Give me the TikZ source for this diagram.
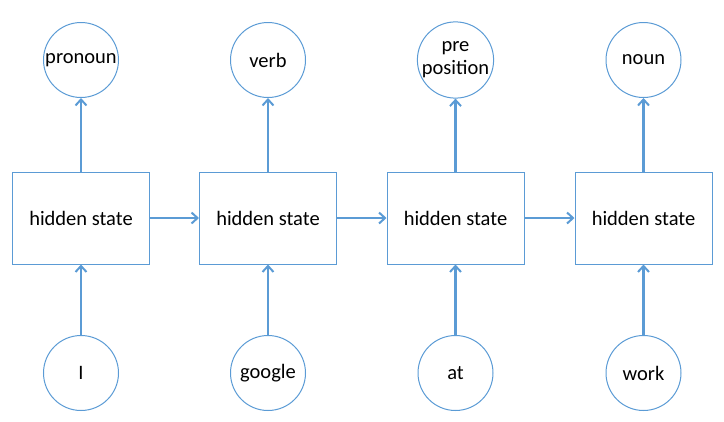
\documentclass[tikz,border=0pt]{standalone}
\usepackage{fontspec}
\setmainfont{Carlito}
\usetikzlibrary{arrows.meta}
\definecolor{ob}{HTML}{5B9BD5}
\begin{document}
\begin{tikzpicture}[x=1pt,y=-1pt,
  hbox/.style={draw=ob,line width=1pt,minimum width=137pt,minimum height=92pt,inner sep=0pt,font=\fontsize{20.5}{22}\selectfont},
  circ/.style={draw=ob,line width=1pt,circle,minimum size=75pt,inner sep=0pt,font=\fontsize{20.5}{23}\selectfont,align=center},
  conn/.style={draw=ob,line width=2.5pt,-{Straight Barb[length=6pt,width=11pt,line width=2pt]}}]
\useasboundingbox (0,0) rectangle (724,421);
\foreach \i/\x/\top/\bot in {1/81/pronoun/I,2/268/verb/google,3/455.5/{pre\\position}/at,4/643.5/noun/work}{
  \node[hbox] (h\i) at (\x,218) {hidden state};
  \node[circ] (t\i) at (\x,60) {\top};
  \node[circ] (b\i) at (\x,373) {\bot};
  \draw[conn] (h\i) -- (t\i);
  \draw[conn] (b\i) -- (h\i);
}
\draw[conn] (h1) -- (h2);
\draw[conn] (h2) -- (h3);
\draw[conn] (h3) -- (h4);
\end{tikzpicture}
\end{document}
